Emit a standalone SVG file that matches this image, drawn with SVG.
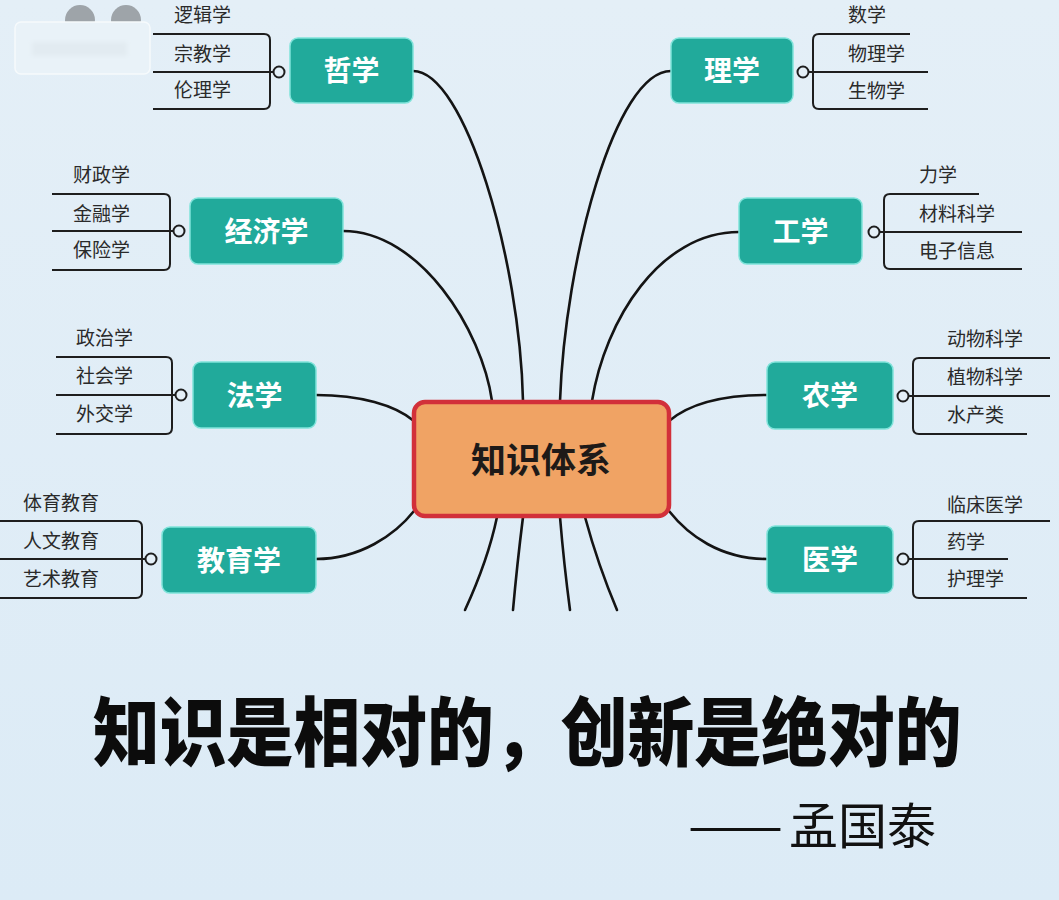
<svg xmlns="http://www.w3.org/2000/svg" width="1059" height="900" viewBox="0 0 1059 900">
<defs>
<linearGradient id="bg" x1="0" y1="0" x2="0" y2="1">
<stop offset="0" stop-color="#e4eff7"/>
<stop offset="1" stop-color="#dcebf6"/>
</linearGradient>
<filter id="soft" x="-20%" y="-20%" width="140%" height="140%">
<feGaussianBlur stdDeviation="2"/>
</filter>
</defs>
<style>
.cat rect.b{fill:#21aa9b;stroke:#7fe3da;stroke-width:1.5}
.cat text{font-family:"Noto Sans CJK SC","Noto Sans",sans-serif;font-size:28px;font-weight:700;fill:#ffffff;text-anchor:middle}
.cat text.leaf{font-size:19px;font-weight:400;fill:#2a2a2a;text-anchor:start}
.br{fill:none;stroke:#1e1e1e;stroke-width:2}
.dot{fill:#e4eff7;stroke:#1e1e1e;stroke-width:2}
.con path{fill:none;stroke:#141414;stroke-width:2.6;stroke-linecap:round}
</style>
<rect width="1059" height="900" fill="url(#bg)"/>
<!-- blurred watermark remnant -->
<g>
<circle cx="80" cy="20" r="15" fill="#9ea4a9"/>
<circle cx="126" cy="20" r="15" fill="#9ea4a9"/>
<rect x="15" y="22" width="135" height="52" rx="6" fill="#e9f2f8" stroke="#f6fafc" stroke-width="1.5"/>
<rect x="32" y="42" width="95" height="14" fill="#e2ebf1" filter="url(#soft)"/>
</g>

<g class="con">
<path d="M413,71 C465,71 520,260 523,401"/>
<path d="M343,231 C420,231 482,330 492,401"/>
<path d="M671,71 C615,71 565,260 560,401"/>
<path d="M739,232 C660,232 605,320 592,401"/>
<path d="M316,395 C360,395 395,405 414,421"/>
<path d="M316,559 C360,559 395,535 414,511"/>
<path d="M767,395 C720,395 688,405 669,421"/>
<path d="M767,559 C720,559 688,535 669,511"/>
<path d="M497,517 Q488,560 465,610"/>
<path d="M523,517 Q517,565 513,610"/>
<path d="M560,517 Q564,565 570,610"/>
<path d="M585,517 Q598,565 617,610"/>
</g>

<g id="center">
<rect x="414" y="402" width="255" height="114" rx="11" fill="#f0a364" stroke="#d2303a" stroke-width="4.5"/>
<text x="541" y="473" font-family="'Noto Sans CJK SC','Noto Sans',sans-serif" font-size="35" font-weight="700" fill="#1e1a18" text-anchor="middle">知识体系</text>
</g>

<!-- Left side -->
<g id="zhexue" class="cat">
<path class="br" d="M153,34 H264 Q270,34 270,40 V103 Q270,109 264,109 H153 M153,72 H274"/>
<circle class="dot" cx="279" cy="72" r="5.5"/>
<rect class="b" x="290" y="38" width="123" height="65" rx="8"/>
<text x="351.5" y="81">哲学</text>
<text class="leaf" x="174" y="22">逻辑学</text>
<text class="leaf" x="174" y="61">宗教学</text>
<text class="leaf" x="174" y="97">伦理学</text>
</g>

<g id="jingjixue" class="cat">
<path class="br" d="M52,194 H164 Q170,194 170,200 V264 Q170,270 164,270 H52 M52,231 H173"/>
<circle class="dot" cx="179" cy="231" r="5.5"/>
<rect class="b" x="190" y="198" width="153" height="66" rx="8"/>
<text x="266.5" y="241.5">经济学</text>
<text class="leaf" x="73" y="182">财政学</text>
<text class="leaf" x="73" y="221">金融学</text>
<text class="leaf" x="73" y="257">保险学</text>
</g>

<g id="faxue" class="cat">
<path class="br" d="M56,357 H166 Q172,357 172,363 V428 Q172,434 166,434 H56 M56,395 H175"/>
<circle class="dot" cx="181" cy="395" r="5.5"/>
<rect class="b" x="193" y="362" width="123" height="66" rx="8"/>
<text x="254.5" y="405.5">法学</text>
<text class="leaf" x="76" y="345">政治学</text>
<text class="leaf" x="76" y="383">社会学</text>
<text class="leaf" x="76" y="421">外交学</text>
</g>

<g id="jiaoyuxue" class="cat">
<path class="br" d="M0,521 H136 Q142,521 142,527 V592 Q142,598 136,598 H0 M0,559 H145"/>
<circle class="dot" cx="151" cy="559" r="5.5"/>
<rect class="b" x="162" y="527" width="154" height="66" rx="8"/>
<text x="239" y="570.5">教育学</text>
<text class="leaf" x="23" y="510">体育教育</text>
<text class="leaf" x="23" y="548">人文教育</text>
<text class="leaf" x="23" y="586">艺术教育</text>
</g>

<!-- Right side -->
<g id="lixue" class="cat">
<path class="br" d="M910,34 H819 Q813,34 813,40 V103 Q813,109 819,109 H928 M928,72 H809"/>
<circle class="dot" cx="803" cy="72" r="5.5"/>
<rect class="b" x="671" y="38" width="122" height="65" rx="8"/>
<text x="732" y="81">理学</text>
<text class="leaf" x="848" y="22">数学</text>
<text class="leaf" x="848" y="61">物理学</text>
<text class="leaf" x="848" y="98">生物学</text>
</g>

<g id="gongxue" class="cat">
<path class="br" d="M979,194 H890 Q884,194 884,200 V263 Q884,269 890,269 H1022 M1022,232 H880"/>
<circle class="dot" cx="874" cy="232" r="5.5"/>
<rect class="b" x="739" y="198" width="123" height="66" rx="8"/>
<text x="800.5" y="241.5">工学</text>
<text class="leaf" x="919" y="182">力学</text>
<text class="leaf" x="919" y="221">材料科学</text>
<text class="leaf" x="919" y="258">电子信息</text>
</g>

<g id="nongxue" class="cat">
<path class="br" d="M1050,358 H919 Q913,358 913,364 V428 Q913,434 919,434 H1027 M1050,396 H909"/>
<circle class="dot" cx="903" cy="396" r="5.5"/>
<rect class="b" x="767" y="362" width="126" height="67" rx="8"/>
<text x="830" y="406">农学</text>
<text class="leaf" x="947" y="346">动物科学</text>
<text class="leaf" x="947" y="384">植物科学</text>
<text class="leaf" x="947" y="422">水产类</text>
</g>

<g id="yixue" class="cat">
<path class="br" d="M1050,521 H919 Q913,521 913,527 V592 Q913,598 919,598 H1027 M1008,559 H909"/>
<circle class="dot" cx="903" cy="559" r="5.5"/>
<rect class="b" x="767" y="526" width="126" height="67" rx="8"/>
<text x="830" y="570">医学</text>
<text class="leaf" x="947" y="512">临床医学</text>
<text class="leaf" x="947" y="549">药学</text>
<text class="leaf" x="947" y="586">护理学</text>
</g>

<text transform="translate(93,760) scale(0.891,1)" font-family="'Noto Sans CJK SC','Noto Sans',sans-serif" font-size="75" font-weight="900" fill="#0c0c0c">知识是相对的，创新是绝对的</text>
<text x="688" y="844" font-family="'Noto Sans CJK SC','Noto Sans',sans-serif" font-size="50" font-weight="400" fill="#111111" textLength="95" lengthAdjust="spacingAndGlyphs">——</text>
<text x="789" y="844" font-family="'Noto Sans CJK SC','Noto Sans',sans-serif" font-size="49" font-weight="400" fill="#111111">孟国泰</text>
</svg>
